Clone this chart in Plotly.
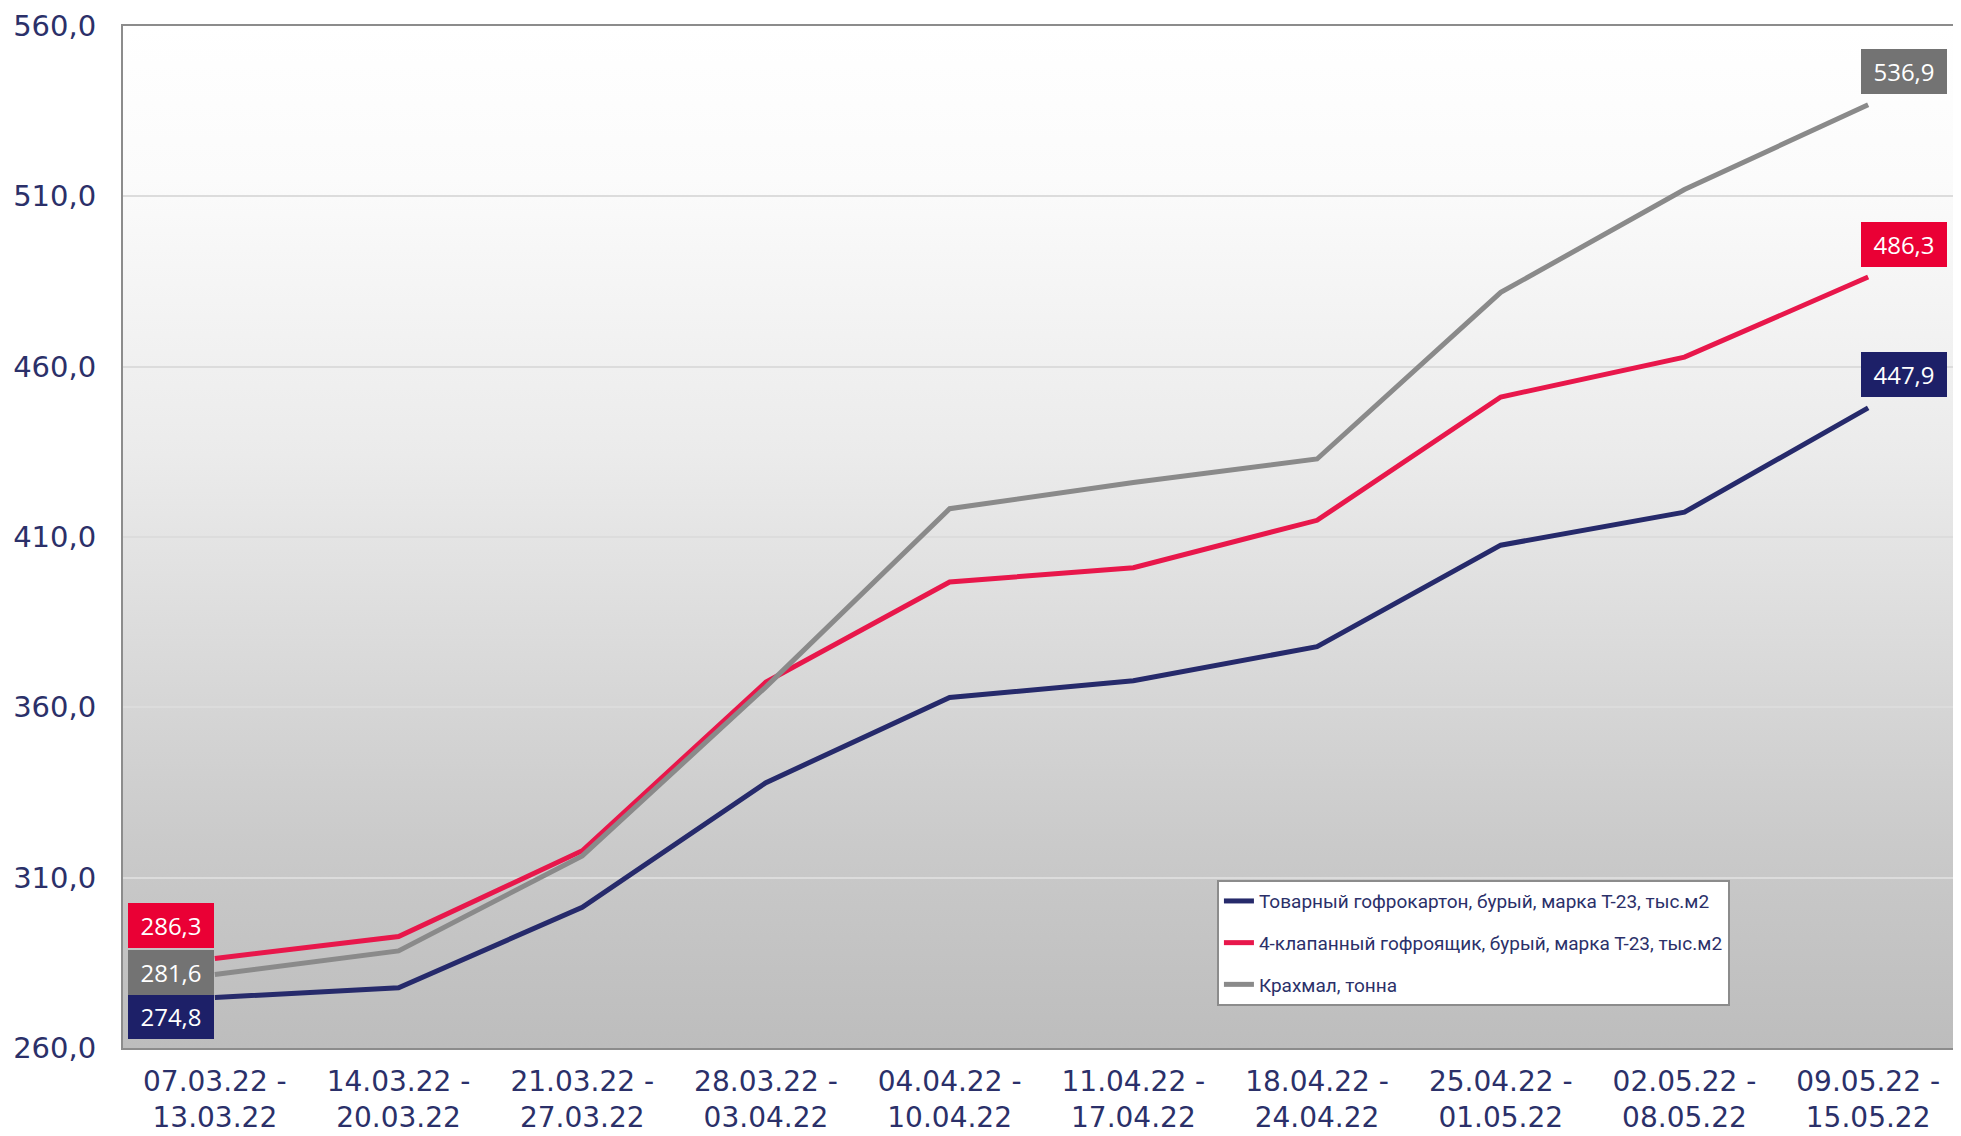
import base64
import plotly.graph_objects as go

categories = ["07.03.22 -<br>13.03.22", "14.03.22 -<br>20.03.22", "21.03.22 -<br>27.03.22",
              "28.03.22 -<br>03.04.22", "04.04.22 -<br>10.04.22", "11.04.22 -<br>17.04.22",
              "18.04.22 -<br>24.04.22", "25.04.22 -<br>01.05.22", "02.05.22 -<br>08.05.22",
              "09.05.22 -<br>15.05.22"]

names = ["Товарный гофрокартон, бурый, марка Т-23, тыс.м2",
         "4-клапанный гофроящик, бурый, марка Т-23, тыс.м2",
         "Крахмал, тонна"]

karton = [274.8, 277.7, 301.3, 337.9, 362.9, 367.8, 377.8, 407.6, 417.3, 447.9]
yashchik = [286.3, 292.7, 317.9, 367.4, 396.8, 401.0, 414.9, 451.1, 462.8, 486.3]
krahmal = [281.6, 288.5, 316.4, 366.0, 418.3, 426.0, 432.9, 481.8, 512.0, 536.9]

y_ticks = [260, 310, 360, 410, 460, 510, 560]

line_colors = ["#262a6b", "#e8174b", "#8a8a8a"]
box_colors = ["#1d2068", "#ea0035", "#737373"]

NAVY_TEXT = "#2b3069"

fig = go.Figure()
for i, (name, vals) in enumerate(zip(names, [karton, yashchik, krahmal])):
    fig.add_trace(go.Scatter(
        x=categories, y=vals, name=name, mode="lines",
        line=dict(color=line_colors[i], width=5),
        legendgroup=f"g{i}",
    ))

# data labels (first and last point)
series = [karton, yashchik, krahmal]
first_shift = [-19, 33, 2]
for i, vals in enumerate(series):
    for idx, xs, ys in [(0, -44, first_shift[i]), (len(vals) - 1, 36, 33)]:
        fig.add_annotation(
            x=categories[idx], y=vals[idx], xref="x", yref="y",
            text=f"{vals[idx]:.1f}".replace(".", ","),
            showarrow=False, xshift=xs, yshift=ys,
            font=dict(family="Open Sans, sans-serif", size=24, color="white"),
            bgcolor=box_colors[i], bordercolor=box_colors[i], borderwidth=1,
            width=76, height=35, borderpad=4, align="center",
        )

svg = ('<svg xmlns="http://www.w3.org/2000/svg" width="100" height="100" preserveAspectRatio="none">'
       '<defs><linearGradient id="g" x1="0" y1="0" x2="0" y2="1">'
       '<stop offset="0" stop-color="#ffffff"/>'
       '<stop offset="0.15" stop-color="#fbfbfb"/>'
       '<stop offset="0.42" stop-color="#ebebeb"/>'
       '<stop offset="0.8" stop-color="#cacaca"/>'
       '<stop offset="1" stop-color="#bdbdbd"/>'
       '</linearGradient></defs><rect width="100" height="100" fill="url(#g)"/></svg>')
src = "data:image/svg+xml;base64," + base64.b64encode(svg.encode()).decode()
fig.add_layout_image(dict(source=src, xref="paper", yref="paper", x=0, y=1, sizex=1, sizey=1,
                          sizing="stretch", layer="below", xanchor="left", yanchor="top"))

fig.update_layout(
    width=1953, height=1128,
    margin=dict(l=115, r=1, t=18, b=88),
    paper_bgcolor="white",
    plot_bgcolor="rgba(0,0,0,0)",
    separators=", ",
    showlegend=True,
    legend=dict(
        x=0.5955, y=0.041, xanchor="left", yanchor="bottom",
        bgcolor="white", bordercolor="#8c8c8c", borderwidth=2,
        font=dict(family="Roboto, sans-serif", size=19, color=NAVY_TEXT),
        tracegroupgap=14,
    ),
    xaxis=dict(
        type="category", range=[-0.5, 9.5], automargin=False,
        showgrid=False, showline=True, linecolor="#8c8c8c", linewidth=2, mirror=True,
        ticks="outside", ticklen=7, tickcolor="rgba(0,0,0,0)",
        tickfont=dict(family="DejaVu Sans, sans-serif", size=28, color=NAVY_TEXT),
    ),
    yaxis=dict(
        range=[260, 560], tickvals=y_ticks, tickformat=".1f", automargin=False,
        ticklabeloverflow="allow",
        showgrid=True, gridcolor="#dcdcdc", gridwidth=2,
        showline=True, linecolor="#8c8c8c", linewidth=2, mirror=True,
        zeroline=False,
        ticks="outside", ticklen=19, tickcolor="rgba(0,0,0,0)",
        tickfont=dict(family="DejaVu Sans, sans-serif", size=29, color=NAVY_TEXT),
    ),
)

fig.write_html("out.html")
